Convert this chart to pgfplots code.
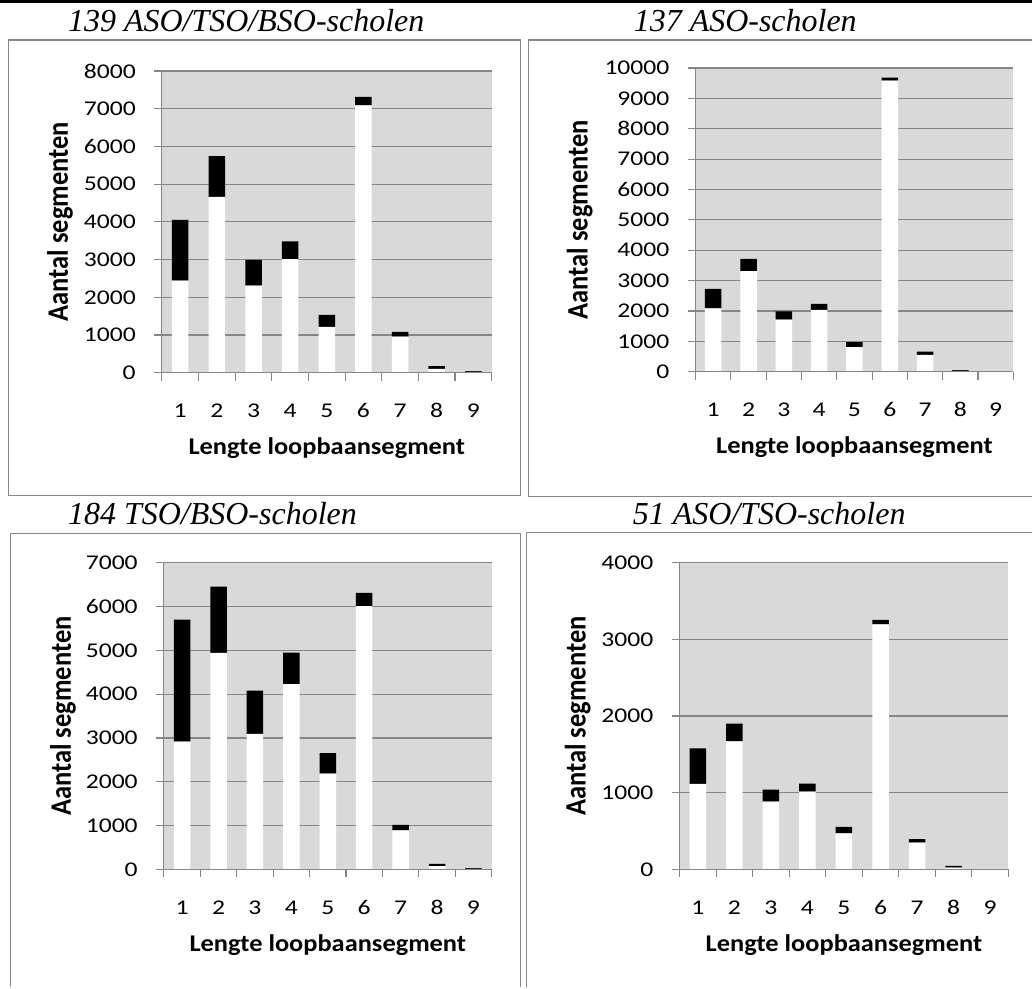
\documentclass[border=0pt]{standalone}
\usepackage{fontspec}
\setmainfont{Liberation Serif}
\newfontfamily\tickf{Carlito}
\newfontfamily\labf[FakeStretch=1.1]{Carlito}
\newfontfamily\labv{Carlito}
\usepackage{graphicx}
\usepackage{pgfplots}
\usepackage{pgfplotstable}
\pgfplotsset{compat=1.18}
\definecolor{plotbg}{HTML}{D9D9D9}
\definecolor{gridc}{HTML}{868686}
\definecolor{framec}{HTML}{878787}

\pgfplotstableread{
x w b
1 2440 1610
2 4660 1085
3 2310 680
4 3015 465
5 1215 320
6 7085 230
7 960 125
8 105 70
9 25 20
}\tA
\pgfplotstableread{
x w b
1 2085 645
2 3310 405
3 1720 265
4 2040 195
5 810 165
6 9585 100
7 560 100
8 30 25
9 12 10
}\tB
\pgfplotstableread{
x w b
1 2915 2785
2 4940 1515
3 3095 985
4 4230 715
5 2185 470
6 6010 300
7 890 130
8 75 55
9 15 15
}\tC
\pgfplotstableread{
x w b
1 1115 465
2 1670 230
3 885 155
4 1015 105
5 470 85
6 3195 60
7 350 45
8 25 22
9 3 3
}\tD

\pgfplotsset{
  layers/barsunder/.define layer set={axis background,axis grid,pre main,main,axis ticks,axis lines,axis tick labels,axis descriptions,axis foreground}{
    grid style={/pgfplots/on layer=axis grid},
    tick style={/pgfplots/on layer=axis ticks},
    axis line style={/pgfplots/on layer=axis lines},
    label style={/pgfplots/on layer=axis descriptions},
    legend style={/pgfplots/on layer=axis descriptions},
    title style={/pgfplots/on layer=axis descriptions},
    colorbar style={/pgfplots/on layer=axis descriptions},
    ticklabel style={/pgfplots/on layer=axis tick labels},
    axis background@ style={/pgfplots/on layer=axis background},
    3d box foreground style={/pgfplots/on layer=axis foreground},
  },
  panel/.style={
    set layers=barsunder,
    scale only axis,
    anchor=south west,
    ybar stacked,
    bar width=16.5pt,
    xmin=0.5, xmax=9.5, ymin=0,
    xtick={1,...,9},
    minor xtick={0.5,1.5,...,9.5},
    major x tick style={draw=none},
    minor x tick style={draw=gridc, line width=1.2pt},
    minor tick length=8pt,
    major tick length=8pt,
    tick align=outside,
    axis x line*=bottom, axis y line*=left,
    axis line style={-, draw=gridc, line width=1.2pt},
    y tick style={draw=gridc, line width=1.2pt},
    ymajorgrids,
    grid style={draw=gridc, line width=1.2pt},
    axis background/.style={fill=plotbg},
    tick label style={font=\tickf\fontsize{21}{21}\selectfont},
    /pgf/number format/assume math mode=true,
    /pgf/number format/1000 sep={},
    scaled y ticks=false,
    yticklabel={\scalebox{1.22}[1]{\pgfmathprintnumber{\tick}}},
    xticklabel={\scalebox{1.22}[1]{\pgfmathprintnumber{\tick}}},
    yticklabel style={anchor=east, inner sep=0pt, xshift=-18pt},
    xticklabel style={anchor=base, inner sep=0pt, yshift=-37pt},
    xlabel={Lengte loopbaansegment},
    ylabel={\scalebox{1}[1.12]{Aantal segmenten}},
    xlabel style={font=\labf\bfseries\fontsize{24}{24}\selectfont, at={([yshift=-82pt]axis description cs:0.5,0)}, anchor=base, inner sep=0pt},
    ylabel style={font=\labv\bfseries\fontsize{26.5}{26.5}\selectfont, at={([xshift=-94pt]axis description cs:0,0.5)}, anchor=base, inner sep=0pt},
  }
}

\begin{document}
\begin{tikzpicture}[x=1pt,y=1pt]
\path (0,0) rectangle (1033,-988);
\fill[black] (0,0) rectangle (1033,-2.5);
% frames
\draw[framec, line width=1.3pt] (8.5,-40) rectangle (521,-496);
\draw[framec, line width=1.3pt] (1033,-40) -- (528.5,-40) -- (528.5,-497) -- (1033,-497);
\draw[framec, line width=1.3pt] (10.5,-988) -- (10.5,-534) -- (521,-534) -- (521,-988);
\draw[framec, line width=1.3pt] (1033,-533) -- (527,-533) -- (527,-988);
% titles
\node[anchor=base west, inner sep=0pt, font=\itshape\fontsize{32}{32}\selectfont] at (68,-32) {139 ASO/TSO/BSO-scholen};
\node[anchor=base west, inner sep=0pt, font=\itshape\fontsize{32}{32}\selectfont] at (634,-32) {137 ASO-scholen};
\node[anchor=base west, inner sep=0pt, font=\itshape\fontsize{32}{32}\selectfont] at (68,-525) {184 TSO/BSO-scholen};
\node[anchor=base west, inner sep=0pt, font=\itshape\fontsize{32}{32}\selectfont] at (633,-525) {51 ASO/TSO-scholen};

\begin{axis}[panel, at={(162pt,-373pt)}, width=330pt, height=302pt, ymax=8000, ytick distance=1000]
\addplot[fill=white, draw=none] table[x=x,y=w]{\tA};
\addplot[fill=black, draw=none] table[x=x,y=b]{\tA};
\end{axis}

\begin{axis}[panel, at={(696pt,-372pt)}, width=318pt, height=304pt, ymax=10000, ytick distance=1000,
  ylabel style={at={([xshift=-108pt]axis description cs:0,0.5)}}]
\addplot[fill=white, draw=none] table[x=x,y=w]{\tB};
\addplot[fill=black, draw=none] table[x=x,y=b]{\tB};
\end{axis}

\begin{axis}[panel, at={(164pt,-870pt)}, width=328pt, height=307pt, ymax=7000, ytick distance=1000,
  ylabel style={at={([xshift=-93pt]axis description cs:0,0.5)}}]
\addplot[fill=white, draw=none] table[x=x,y=w]{\tC};
\addplot[fill=black, draw=none] table[x=x,y=b]{\tC};
\end{axis}

\begin{axis}[panel, at={(680pt,-870pt)}, width=329pt, height=307pt, ymax=4000, ytick distance=1000]
\addplot[fill=white, draw=none] table[x=x,y=w]{\tD};
\addplot[fill=black, draw=none] table[x=x,y=b]{\tD};
\end{axis}
\end{tikzpicture}
\end{document}
